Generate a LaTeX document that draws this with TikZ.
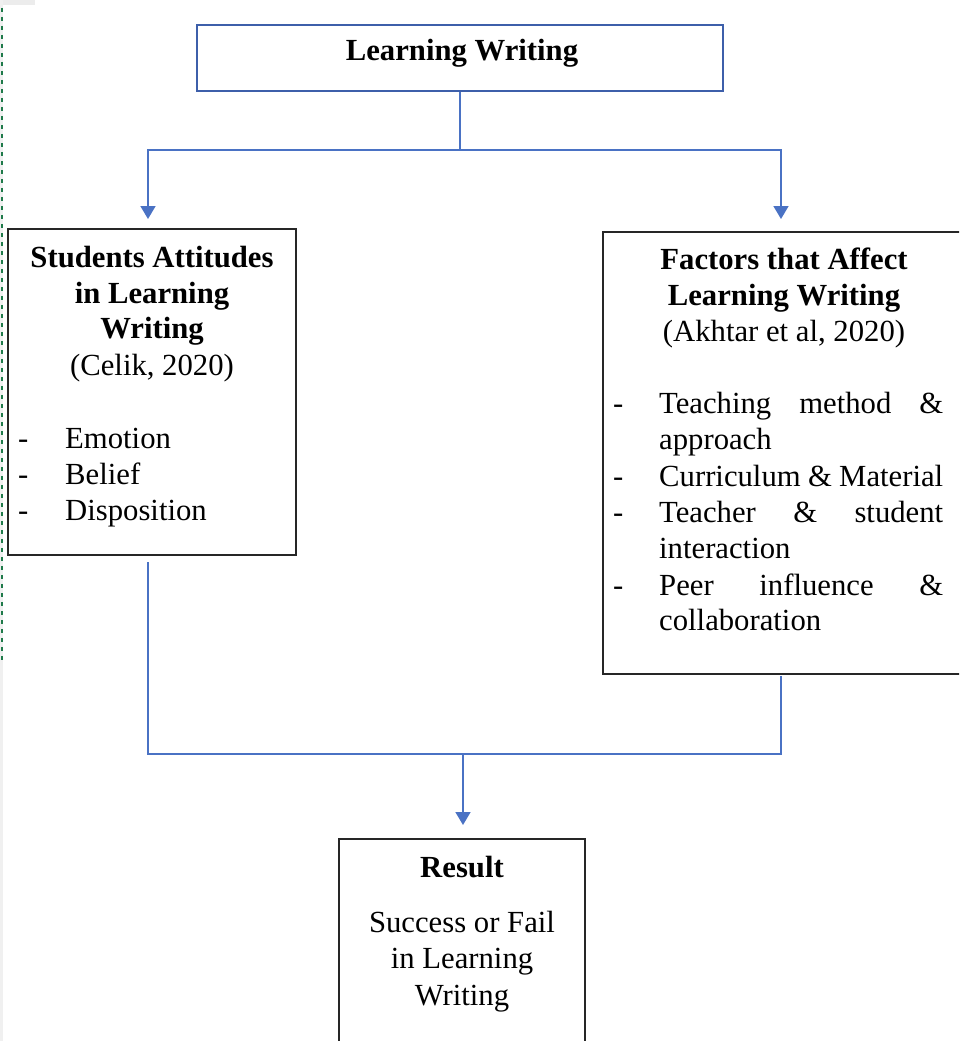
\documentclass[tikz,border=0pt]{standalone}
\usepackage{fontspec}
\setmainfont{Liberation Serif}
\usetikzlibrary{arrows.meta}
\definecolor{lnblue}{HTML}{4A72C4}
\definecolor{boxblue}{HTML}{3D5FAA}
\definecolor{edgegreen}{HTML}{1F7A4A}
\tikzset{
  conn/.style={draw=lnblue, line width=1.6pt},
  arr/.style={conn, -{Triangle[width=15pt,length=13pt]}},
  bx/.style={draw=black!85, line width=2pt, inner sep=0pt, fill=white},
  txt/.style={font=\fontsize{30.7}{36}\selectfont, inner sep=0pt, anchor=base},
  btxt/.style={font=\fontsize{30.7}{36}\selectfont\bfseries, inner sep=0pt, anchor=base},
  ltxt/.style={font=\fontsize{30.7}{36}\selectfont, inner sep=0pt, anchor=base west},
}
\begin{document}
\begin{tikzpicture}[x=1pt,y=-1pt]
\useasboundingbox (0,0) rectangle (959,1041);
\clip (0,0) rectangle (959,1041);
\fill[white] (0,0) rectangle (959,1041);
% page-edge artefacts
\fill[gray!15] (0,0) rectangle (35,5);
\fill[gray!12] (0,0) rectangle (3,1041);
\draw[edgegreen, line width=2pt, dash pattern=on 4pt off 5pt] (1.5,8) -- (1.5,660);

% boxes
\node[draw=boxblue, line width=2.5pt, minimum width=526pt, minimum height=66pt, inner sep=0pt] (top) at (460,58) {};
\node[bx, minimum width=288pt, minimum height=326pt] (L) at (152,392) {};
\node[bx, minimum width=360pt, minimum height=442pt] (R) at (783,453) {};
\node[bx, minimum width=246pt, minimum height=206pt] (Res) at (462,942) {};

% top text
\node[btxt] (t0) at (462,61) {Learning Writing};

% left box text
\node[btxt] (l1) at (152,267) {Students Attitudes};
\node[btxt] (l2) at (152,303) {in Learning};
\node[btxt] (l3) at (152,338) {Writing};
\node[txt] (l4) at (152,375) {(Celik, 2020)};
\node[ltxt] (ld1) at (18,448) {-};
\node[ltxt] (li1) at (65,448) {Emotion};
\node[ltxt] (ld2) at (18,484) {-};
\node[ltxt] (li2) at (65,484) {Belief};
\node[ltxt] (ld3) at (18,520) {-};
\node[ltxt] (li3) at (65,520) {Disposition};

% right box text
\node[btxt] (r1) at (784,269) {Factors that Affect};
\node[btxt] (r2) at (784,305) {Learning Writing};
\node[txt] (r3) at (784,341) {(Akhtar et al, 2020)};
\node[ltxt] (rd1) at (613,413) {-};
\node[ltxt] (ri1) at (659,413) {\makebox[284pt][s]{Teaching method \&}};
\node[ltxt] (ri1b) at (659,449) {approach};
\node[ltxt] (rd2) at (613,486) {-};
\node[ltxt] (ri2) at (659,486) {\makebox[284pt][s]{Curriculum \& Material}};
\node[ltxt] (rd3) at (613,522) {-};
\node[ltxt] (ri3) at (659,522) {\makebox[284pt][s]{Teacher \& student}};
\node[ltxt] (ri3b) at (659,558) {interaction};
\node[ltxt] (rd4) at (613,595) {-};
\node[ltxt] (ri4) at (659,595) {\makebox[284pt][s]{Peer influence \&}};
\node[ltxt] (ri4b) at (659,630) {collaboration};

% result text
\node[btxt] (s1) at (462,877) {Result};
\node[txt] (s2) at (462,932) {Success or Fail};
\node[txt] (s3) at (462,968) {in Learning};
\node[txt] (s4) at (462,1005) {Writing};

% connectors
\coordinate (jt) at (460,150);
\coordinate (La) at (148,219);
\coordinate (Ra) at (781,219);
\coordinate (Lb) at (148,562);
\coordinate (Rb) at (781,676);
\coordinate (jb) at (463,754);
\draw[conn] (top.south) -- (jt);
\draw[arr] (jt) -| (La);
\draw[arr] (jt) -| (Ra);
\draw[conn] (Lb) |- (jb) -| (Rb);
\draw[arr, shorten >=13pt] (jb) -- (jb |- Res.north);
\end{tikzpicture}
\end{document}
